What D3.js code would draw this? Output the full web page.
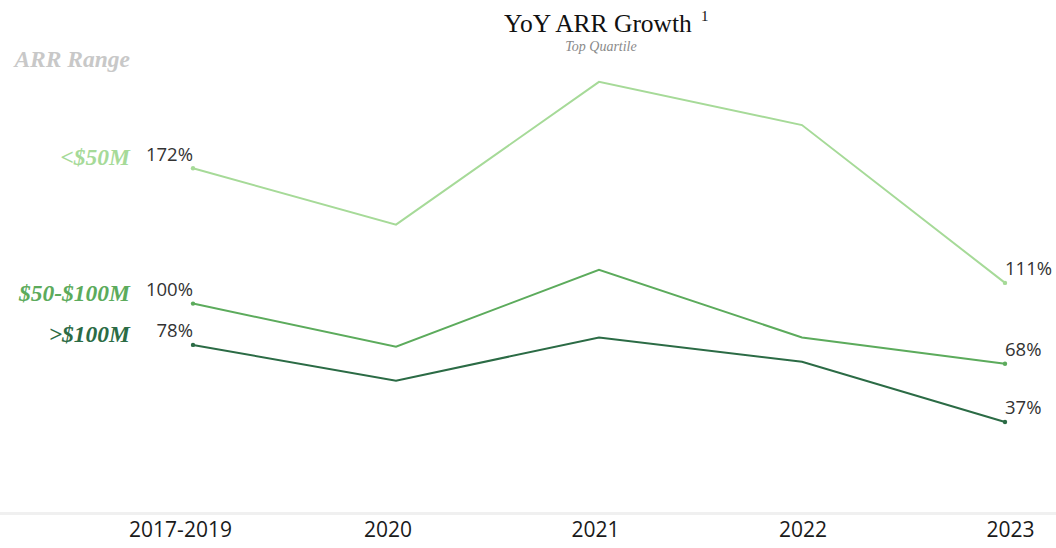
<!DOCTYPE html>
<html>
<head>
<meta charset="utf-8">
<script src="https://cdn.jsdelivr.net/npm/d3@7"></script>
<style>
  body { margin: 0; background: #fff; }
  .serif { font-family: "Liberation Serif", "DejaVu Serif", serif; }
  .sans { font-family: "Open Sans", "Noto Sans", sans-serif; }
</style>
</head>
<body>
<div id="chart"></div>
<script>
// data
const categories = ["2017-2019", "2020", "2021", "2022", "2023"];
const seriesNames = ["<$50M", "$50-$100M", ">$100M"];
const seriesColors = ["#a6da98", "#5cab5c", "#2b6b45"];
const under50 = [172, 142, 218, 195, 111];
const from50to100 = [100, 77, 118, 82, 68];
const over100 = [78, 59, 82, 69, 37];

const width = 1056, height = 548;

const svg = d3.select("#chart")
  .append("svg")
    .attr("width", width)
    .attr("height", height);

// x: point positions for the lines, header positions for the year labels
const x = d3.scalePoint()
  .domain(categories)
  .range([193, 1005]);
const xHeader = d3.scalePoint()
  .domain(categories)
  .range([180, 1010]);

const y = d3.scaleLinear()
  .domain([0, 240])
  .range([491.5, 40.5]);

const series = seriesNames.map(function(name, i) {
  return { name: name, color: seriesColors[i], values: [under50, from50to100, over100][i] };
});

// title
svg.append("text")
  .attr("class", "serif")
  .attr("x", 598)
  .attr("y", 32)
  .attr("text-anchor", "middle")
  .style("font-size", "25.5px")
  .style("fill", "#111")
  .text("YoY ARR Growth");
svg.append("text")
  .attr("class", "serif")
  .attr("x", 701)
  .attr("y", 21)
  .style("font-size", "15px")
  .style("fill", "#111")
  .text("1");
svg.append("text")
  .attr("class", "serif")
  .attr("x", 601)
  .attr("y", 51)
  .attr("text-anchor", "middle")
  .style("font-size", "14px")
  .style("font-style", "italic")
  .style("fill", "#8a8a8a")
  .text("Top Quartile");

// legend heading
svg.append("text")
  .attr("class", "serif")
  .attr("x", 130)
  .attr("y", 67)
  .attr("text-anchor", "end")
  .style("font-size", "23.5px")
  .style("font-style", "italic")
  .style("font-weight", "bold")
  .style("fill", "#c8c8c8")
  .text("ARR Range");

// bottom axis rule
svg.append("rect")
  .attr("x", 0)
  .attr("y", 512)
  .attr("width", width)
  .attr("height", 3)
  .style("fill", "#f0f0f0");

const xAxis = svg.append("g")
  .attr("transform", "translate(0, 522)")
  .call(d3.axisBottom(xHeader).tickSize(0).tickPadding(0));
xAxis.select(".domain").remove();
xAxis.selectAll("text")
  .attr("class", "sans")
  .attr("dy", "0.71em")
  .style("font-size", "21px")
  .style("fill", "#1a1a1a");

const line = d3.line()
  .x(function(d, i) { return x(categories[i]); })
  .y(function(d) { return y(d); });

const groups = svg.selectAll(".series")
  .data(series)
  .enter()
  .append("g")
    .attr("class", "series");

groups.append("path")
  .attr("d", function(d) { return line(d.values); })
  .style("fill", "none")
  .style("stroke", function(d) { return d.color; })
  .style("stroke-width", 2);

// end dots
groups.selectAll("circle")
  .data(function(d) {
    const n = d.values.length - 1;
    return [{ c: categories[0], v: d.values[0], color: d.color },
            { c: categories[n], v: d.values[n], color: d.color }];
  })
  .enter()
  .append("circle")
    .attr("cx", function(d) { return x(d.c); })
    .attr("cy", function(d) { return y(d.v); })
    .attr("r", 2.2)
    .style("fill", function(d) { return d.color; });

// value labels at start and end
groups.append("text")
  .attr("class", "sans")
  .attr("x", x(categories[0]))
  .attr("y", function(d) { return y(d.values[0]) - 7.5; })
  .attr("text-anchor", "end")
  .style("font-size", "18.5px")
  .style("fill", "#333")
  .text(function(d) { return d.values[0] + "%"; });

groups.append("text")
  .attr("class", "sans")
  .attr("x", x(categories[categories.length - 1]))
  .attr("y", function(d) { return y(d.values[d.values.length - 1]) - 8; })
  .attr("text-anchor", "start")
  .style("font-size", "18.5px")
  .style("fill", "#333")
  .text(function(d) { return d.values[d.values.length - 1] + "%"; });

// series names on the left
groups.append("text")
  .attr("class", "serif")
  .attr("x", 130)
  .attr("y", function(d) { return y(d.values[0]) - 3; })
  .attr("text-anchor", "end")
  .style("font-size", "23.5px")
  .style("font-style", "italic")
  .style("font-weight", "bold")
  .style("fill", function(d) { return d.color; })
  .text(function(d) { return d.name; });
</script>
</body>
</html>
